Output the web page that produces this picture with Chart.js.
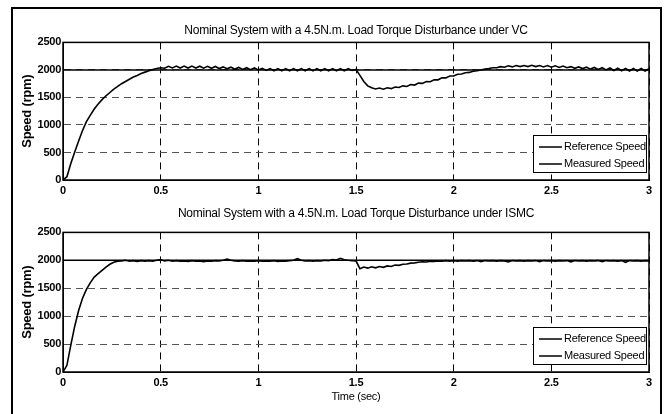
<!DOCTYPE html>
<html>
<head>
<meta charset="utf-8">
<script src="https://cdn.jsdelivr.net/npm/chart.js"></script>
<style>
  html, body { margin: 0; padding: 0; background: #fff; }
  #page { position: relative; width: 665px; height: 414px; overflow: hidden; }
  #frame { position: absolute; left: 11px; top: 7px; width: 647px; height: 420px; border: 2px solid #000; pointer-events: none; }
  canvas { position: absolute; left: 0; }
</style>
</head>
<body>
<div id="page">
  <canvas id="vc-chart" width="665" height="205" style="top:0"></canvas>
  <canvas id="ismc-chart" width="665" height="209" style="top:205px"></canvas>
  <div id="frame"></div>
</div>
<script>
// sample instants (sec), one every 0.02 s
const sampleTimes = [
  0, 0.02, 0.04, 0.06, 0.08, 0.10, 0.12, 0.14, 0.16, 0.18, 0.20, 0.22, 0.24, 0.26, 0.28, 0.30, 0.32, 0.34, 0.36, 0.38, 0.40, 0.42, 0.44, 0.46, 0.48,
  0.50, 0.52, 0.54, 0.56, 0.58, 0.60, 0.62, 0.64, 0.66, 0.68, 0.70, 0.72, 0.74, 0.76, 0.78, 0.80, 0.82, 0.84, 0.86, 0.88, 0.90, 0.92, 0.94, 0.96, 0.98,
  1.00, 1.02, 1.04, 1.06, 1.08, 1.10, 1.12, 1.14, 1.16, 1.18, 1.20, 1.22, 1.24, 1.26, 1.28, 1.30, 1.32, 1.34, 1.36, 1.38, 1.40, 1.42, 1.44, 1.46, 1.48,
  1.50, 1.52, 1.54, 1.56, 1.58, 1.60, 1.62, 1.64, 1.66, 1.68, 1.70, 1.72, 1.74, 1.76, 1.78, 1.80, 1.82, 1.84, 1.86, 1.88, 1.90, 1.92, 1.94, 1.96, 1.98,
  2.00, 2.02, 2.04, 2.06, 2.08, 2.10, 2.12, 2.14, 2.16, 2.18, 2.20, 2.22, 2.24, 2.26, 2.28, 2.30, 2.32, 2.34, 2.36, 2.38, 2.40, 2.42, 2.44, 2.46, 2.48,
  2.50, 2.52, 2.54, 2.56, 2.58, 2.60, 2.62, 2.64, 2.66, 2.68, 2.70, 2.72, 2.74, 2.76, 2.78, 2.80, 2.82, 2.84, 2.86, 2.88, 2.90, 2.92, 2.94, 2.96, 2.98,
  3.00
];

// measured speed under VC (rpm)
const speedVC = [
  0, 60, 300, 510, 710, 900, 1060, 1180, 1290, 1380, 1460, 1530, 1590, 1650, 1700, 1750, 1790, 1830, 1870, 1900, 1935, 1960, 1985, 2005, 2025,
  2040, 2030, 2065, 2035, 2070, 2035, 2070, 2035, 2070, 2035, 2068, 2032, 2065, 2030, 2062, 2025, 2055, 2020, 2050, 2015, 2045, 2010, 2040, 2005, 2035,
  2000, 2030, 1990, 2025, 1985, 2025, 1985, 2025, 1985, 2025, 1985, 2025, 1985, 2025, 1985, 2025, 1985, 2025, 1985, 2025, 1985, 2025, 1985, 2025, 1990,
  2010, 1900, 1790, 1710, 1675, 1655, 1670, 1650, 1675, 1660, 1690, 1680, 1710, 1700, 1735, 1725, 1760, 1755, 1790, 1785, 1820, 1820, 1855, 1855, 1890,
  1890, 1920, 1925, 1950, 1955, 1975, 1985, 2000, 2015, 2025, 2040, 2040, 2060, 2050, 2075, 2055, 2080, 2060, 2080, 2060, 2085, 2060, 2080, 2055, 2080,
  2050, 2075, 2045, 2070, 2040, 2060, 2030, 2055, 2025, 2050, 2015, 2045, 2010, 2040, 2000, 2035, 1990, 2030, 1985, 2025, 1980, 2025, 1980, 2025, 1980,
  2020
];

// measured speed under ISMC (rpm)
const speedISMC = [
  0, 120, 480, 820, 1100, 1320, 1480, 1600, 1700, 1760, 1820, 1880, 1930, 1965, 1985, 1990, 2000, 1985, 1995, 1980, 1995, 1985, 1995, 1985, 2000,
  2015, 1990, 2000, 1985, 1995, 1985, 1990, 1980, 1995, 1985, 1990, 1975, 1990, 1985, 1995, 1990, 2000, 2020, 2000, 1990, 1985, 1995, 1985, 1990, 1985,
  1995, 1985, 1990, 1985, 1995, 1980, 1990, 1985, 1995, 2000, 2030, 2000, 1990, 1995, 1985, 1995, 1990, 2000, 1995, 2015, 2005, 2035, 2010, 2000, 1995,
  1990, 1850, 1880, 1860, 1885, 1865, 1890, 1875, 1900, 1890, 1915, 1910, 1930, 1935, 1950, 1955, 1965, 1975, 1970, 1985, 1980, 1990, 1985, 1995, 1985,
  1995, 1985, 1995, 1990, 1995, 1985, 1995, 1975, 1995, 1990, 1995, 1985, 1995, 1990, 1970, 1995, 1990, 1995, 1985, 1995, 1990, 1995, 1975, 1995, 1990,
  1995, 1985, 1995, 1990, 1995, 1970, 1995, 1990, 1995, 1985, 1995, 1990, 1995, 1975, 1995, 1990, 1995, 1985, 1995, 1965, 1995, 1990, 1995, 1985, 1995,
  1990
];

// reference speed command
const refTimes = [0, 3];
const refSpeed = [2000, 2000];

const timeTicks = [0, 0.5, 1, 1.5, 2, 2.5, 3];
const timeTickLabels = ['0', '0.5', '1', '1.5', '2', '2.5', '3'];
const speedTicks = [0, 500, 1000, 1500, 2000, 2500];
const speedTickLabels = ['0', '500', '1000', '1500', '2000', '2500'];

const legendLabels = ['Reference Speed', 'Measured Speed'];
const titleVC = 'Nominal System with a 4.5N.m. Load Torque Disturbance under VC';
const titleISMC = 'Nominal System with a 4.5N.m. Load Torque Disturbance under ISMC';

const SANS = "'Liberation Sans', Arial, sans-serif";

function toPoints(xs, ys) {
    return xs.map((x, i) => ({ x: x, y: ys[i] }));
}

// the reference fonts are squeezed, so tighten the letters a bit
const tightText = {
    id: 'tightText',
    beforeDraw(chart) {
        chart.ctx.letterSpacing = '-0.25px';
    }
};

// box round the plot area + the little legend in the lower right corner
const frameAndLegend = {
    id: 'frameAndLegend',
    afterDatasetsDraw(chart) {
        const ctx = chart.ctx;
        const a = chart.chartArea;
        ctx.save();
        ctx.strokeStyle = '#000';
        ctx.lineWidth = 1.5;
        ctx.strokeRect(a.left, a.top, a.right - a.left, a.bottom - a.top);

        // legend box
        const x1 = a.right - 2, x0 = x1 - 114;
        const y1 = a.bottom - 7, y0 = y1 - 38;
        ctx.fillStyle = '#fff';
        ctx.fillRect(x0, y0, x1 - x0, y1 - y0);
        ctx.lineWidth = 1;
        ctx.strokeRect(x0 + 0.5, y0 + 0.5, x1 - x0 - 1, y1 - y0 - 1);

        ctx.font = '11px ' + SANS;
        ctx.fillStyle = '#000';
        ctx.textBaseline = 'middle';
        legendLabels.forEach((label, i) => {
            const y = y0 + 12 + i * 17;
            ctx.beginPath();
            ctx.lineWidth = 1.5;
            ctx.moveTo(x0 + 6, y);
            ctx.lineTo(x0 + 29, y);
            ctx.stroke();
            ctx.fillText(label, x0 + 31, y);
        });
        ctx.restore();
    }
};

function buildChart(canvasId, title, measured, opts) {
    const ctx = document.getElementById(canvasId).getContext('2d');
    return new Chart(ctx, {
        type: 'line',
        data: {
            datasets: [{
                label: legendLabels[0],
                data: toPoints(refTimes, refSpeed),
                borderColor: '#000',
                borderWidth: 1.5,
                pointRadius: 0,
                tension: 0
            }, {
                label: legendLabels[1],
                data: toPoints(sampleTimes, measured),
                borderColor: '#000',
                borderWidth: 1.6,
                pointRadius: 0,
                tension: 0
            }]
        },
        options: {
            responsive: false,
            animation: false,
            layout: { padding: { left: 0, right: 16, top: 0, bottom: 0 } },
            plugins: {
                legend: { display: false },
                tooltip: { enabled: false },
                title: {
                    display: true,
                    fullSize: false,
                    text: title,
                    color: '#000',
                    font: { family: SANS, size: 12, weight: 'normal' },
                    padding: opts.titlePadding
                }
            },
            scales: {
                x: {
                    type: 'linear',
                    min: 0,
                    max: 3,
                    afterBuildTicks: s => { s.ticks = timeTicks.map(v => ({ value: v })); },
                    afterFit: s => { s.height = opts.xHeight; },
                    ticks: {
                        autoSkip: false,
                        maxRotation: 0,
                        padding: 4,
                        color: '#000',
                        font: { family: SANS, size: 11, weight: 'bold' },
                        callback: (v, i) => timeTickLabels[i]
                    },
                    grid: { color: '#000', lineWidth: 1, drawTicks: false },
                    border: { display: true, color: '#000', width: 1, dash: [7, 5] },
                    title: {
                        display: opts.showTime,
                        text: 'Time (sec)',
                        color: '#000',
                        font: { family: SANS, size: 11, weight: 'normal' },
                        padding: { top: 0, bottom: 10 }
                    }
                },
                y: {
                    min: 0,
                    max: 2500,
                    afterBuildTicks: s => { s.ticks = speedTicks.map(v => ({ value: v })); },
                    afterFit: s => { s.width = 63; },
                    ticks: {
                        autoSkip: false,
                        padding: 2,
                        color: '#000',
                        font: { family: SANS, size: 11, weight: 'bold' },
                        callback: (v, i) => speedTickLabels[i]
                    },
                    grid: { color: '#555', lineWidth: 1, drawTicks: false },
                    border: { display: true, color: '#000', width: 1, dash: [7, 5] },
                    title: {
                        display: true,
                        text: 'Speed (rpm)',
                        color: '#000',
                        font: { family: SANS, size: 13, weight: 'bold' },
                        padding: { top: 20, bottom: 0 }
                    }
                }
            }
        },
        plugins: [tightText, frameAndLegend]
    });
}

buildChart('vc-chart', titleVC, speedVC, {
    titlePadding: { top: 23, bottom: 5 },
    xHeight: 25,
    showTime: false
});

buildChart('ismc-chart', titleISMC, speedISMC, {
    titlePadding: { top: 1, bottom: 12 },
    xHeight: 42,
    showTime: true
});
</script>
</body>
</html>
